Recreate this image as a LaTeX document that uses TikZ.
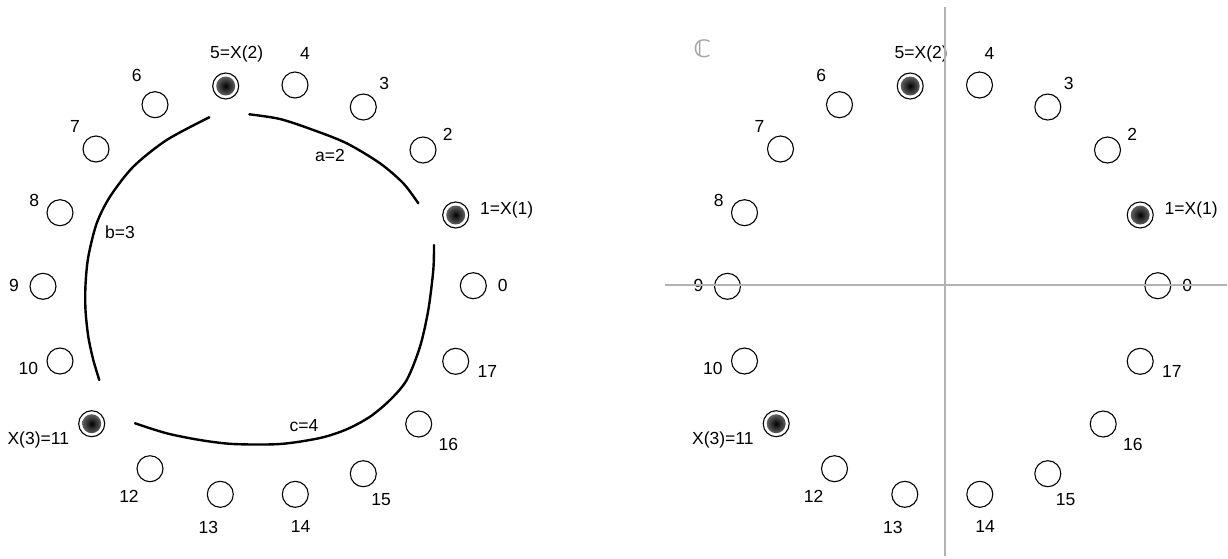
\documentclass[tikz,border=0pt]{standalone}
\usepackage{fontspec}
\setmainfont{Liberation Sans}
\newfontfamily\djv{DejaVu Sans}
\pgfdeclareradialshading{ringshade}{\pgfpoint{0bp}{-9bp}}{color(0bp)=(white); color(36bp)=(white); color(50bp)=(black!25); color(60bp)=(black!55)}
\pgfdeclareradialshading{dotshade}{\pgfpoint{0bp}{0bp}}{color(0bp)=(black); color(7bp)=(black!85); color(22bp)=(black!55); color(40bp)=(black!22); color(47bp)=(black!30); color(50bp)=(black!60)}
\begin{document}
\begin{tikzpicture}[x=1pt,y=-1pt,
  ring/.style={circle, draw=black, line width=1.1pt, minimum size=26pt, inner sep=0pt, shade, shading=ringshade},
  hring/.style={circle, draw=black, line width=1.1pt, minimum size=26pt, inner sep=0pt, fill=white,
    path picture={\shade[shading=dotshade] (path picture bounding box.center) circle (9.5pt);}},
  lbl/.style={inner sep=0pt, font=\fontsize{17.5}{20}\selectfont},
  arcline/.style={line width=2.4pt, line cap=round},
  axisline/.style={draw=black!30, line width=1.8pt}]
\useasboundingbox (0,0) rectangle (1228,558);
\foreach \s/\p in {0/L,684.5/R}{
  \begin{scope}[xshift=\s]
  \foreach \i/\x/\y/\lx/\ly/\t/\st in {
    0/473.3/285.7/502.7/285.7/0/ring,
    1/455.7/215/506.7/210/1=X(1)/hring,
    2/423/150/447.7/134/2/ring,
    3/363.3/107/384.3/83.3/3/ring,
    4/295/85/305/53.3/4/ring,
    5/225.7/86/236.7/54/5=X(2)/hring,
    6/155/104.7/136.7/75.7/6/ring,
    7/96/149/75/126.7/7/ring,
    8/60/212.7/34.3/200/8/ring,
    9/43/286.3/14/285/9/ring,
    10/60/361/28.3/368.3/10/ring,
    11/91.7/423.7/38.3/440/X(3)=11/hring,
    12/150/468.7/129/496.7/12/ring,
    13/220.3/494.3/208.3/527.3/13/ring,
    14/295.3/494.3/300.7/526.7/14/ring,
    15/363.3/473.7/381/499.3/15/ring,
    16/418.7/424/448.3/444.3/16/ring,
    17/455.7/361.3/487.3/371.7/17/ring}{
    \node[\st] (\p\i) at (\x,\y) {};
    \node[lbl] (\p t\i) at (\lx,\ly) {\t};
  }
  \end{scope}
}
% arcs on the left ring
\coordinate (aS) at (249.3,114.3); \coordinate (aE) at (418.3,203.3);
\coordinate (bS) at (209.3,117.3); \coordinate (bE) at (99.3,380);
\coordinate (cS) at (434,245);     \coordinate (cE) at (135,423.3);
\draw[arcline] plot[smooth] coordinates {(aS) (280,119) (313.3,130) (346.7,143.3) (380,163.3) (403.3,183.3) (aE)};
\draw[arcline] plot[smooth] coordinates {(bS) (166.7,140) (133.3,166.7) (110,196.7) (96.7,223.3) (88.3,256.7) (85.5,285) (85.5,310) (88.3,336.7) (93.3,360) (bE)};
\draw[arcline] plot[smooth] coordinates {(cS) (433.3,270) (428.3,310) (420,346.7) (406.7,380) (390,400) (370,416.7) (346.7,429.3) (320,438) (280,444) (233.3,444) (200,440) (166.7,433.3) (cE)};
\node[lbl] (la) at (330,155.7) {a=2};
\node[lbl] (lb) at (120,232.7) {b=3};
\node[lbl] (lc) at (304,425.7) {c=4};
% right: complex plane axes
\coordinate (vT) at (945,7);   \coordinate (vB) at (945,556);
\coordinate (hL) at (665,285.3); \coordinate (hR) at (1227,285.3);
\draw[axisline] (vT) -- (vB);
\draw[axisline] (hL) -- (hR);
\node[inner sep=0pt, text=black!35, font=\djv\bfseries\fontsize{24}{28}\selectfont] (C) at (702.3,48.3) {ℂ};
\end{tikzpicture}
\end{document}
